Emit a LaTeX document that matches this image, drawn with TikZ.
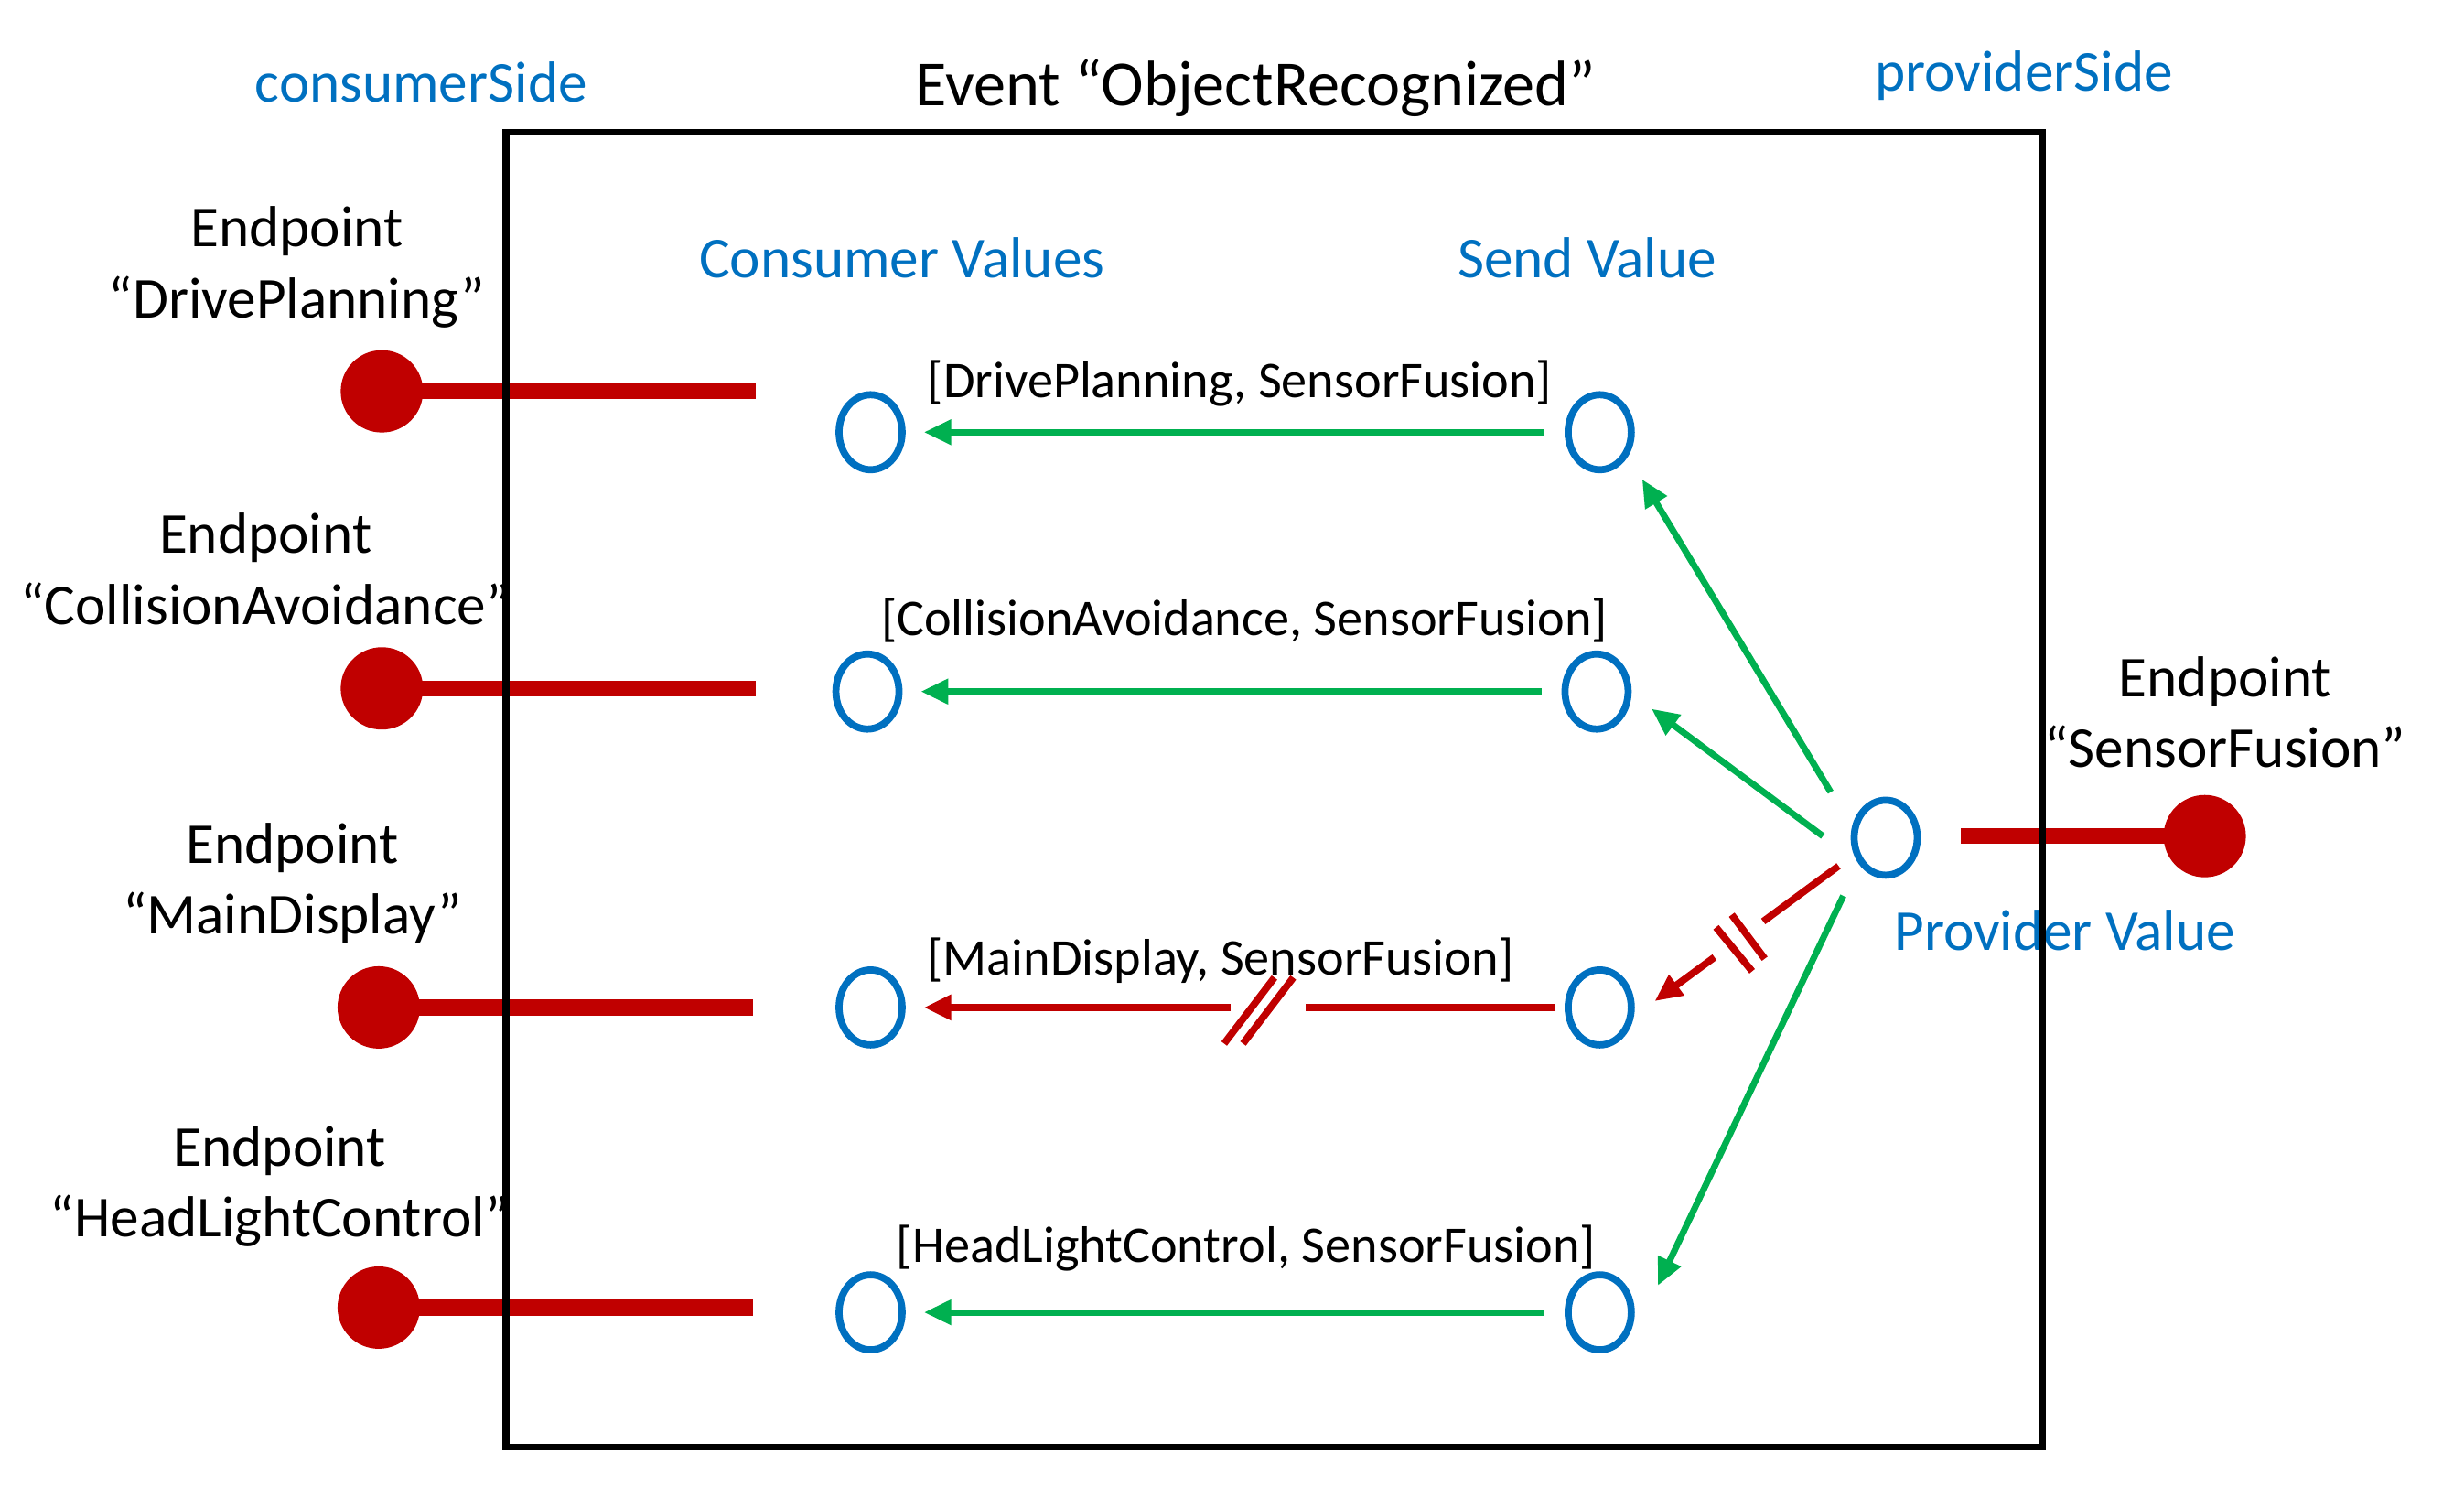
\documentclass[tikz,border=0pt]{standalone}
\usepackage{fontspec}
\setmainfont{Carlito}
\usetikzlibrary{arrows.meta,shapes.geometric,calc}
\definecolor{ablue}{HTML}{0070C0}
\definecolor{ared}{HTML}{C00000}
\definecolor{agreen}{HTML}{00B050}
\tikzset{
  lbl/.style={font=\fontsize{18}{22}\selectfont, align=center, inner sep=0pt},
  bluelbl/.style={lbl, text=ablue},
  titlelbl/.style={font=\fontsize{20}{24}\selectfont, inner sep=0pt},
  pairlbl/.style={font=\fontsize{16}{19}\selectfont, inner sep=0pt},
  valnode/.style={ellipse, draw=ablue, line width=2.2pt, minimum width=0.69cm,
                  minimum height=0.82cm, inner sep=0pt},
  epdot/.style={circle, fill=ared, minimum size=0.9cm, inner sep=0pt},
  wire/.style={draw=ared, line width=4.9pt},
  flow/.style={draw=agreen, line width=2pt, -{Triangle[length=8.5pt,width=7.5pt]}},
  blocked/.style={draw=ared, line width=2.2pt},
  blockedtip/.style={blocked, -{Triangle[length=8.5pt,width=7.5pt]}},
  frame/.style={draw=black, line width=2.1pt}
}
\begin{document}
\begin{tikzpicture}[x=0.017175cm, y=-0.017175cm]
\useasboundingbox (0,0) rectangle (1568,960);

% headings
\node[bluelbl] (cside) at (268,52) {consumerSide};
\node[titlelbl] (ttl) at (799,56) {Event “ObjectRecognized”};
\node[bluelbl] (pside) at (1288,48) {providerSide};
\node[bluelbl] (chead) at (574,164) {Consumer Values};
\node[bluelbl] (shead) at (1010,164) {Send Value};
\node[bluelbl] (phead) at (1314,592) {Provider Value};

% endpoint labels
\node[lbl] (e1) at (189,170) {Endpoint\\“DrivePlanning”};
\node[lbl] (e2) at (169,362) {Endpoint\\“CollisionAvoidance”};
\node[lbl] (e3) at (186,562) {Endpoint\\“MainDisplay”};
\node[lbl] (e4) at (178,755) {Endpoint\\“HeadLightControl”};
\node[lbl] (ep) at (1416,453) {Endpoint\\“SensorFusion”};

% endpoint dots and their wires
\node[epdot] (d1) at (243,249) {};
\node[epdot] (d2) at (243,438) {};
\node[epdot] (d3) at (241,641) {};
\node[epdot] (d4) at (241,832) {};
\node[epdot] (dp) at (1403,532) {};
\coordinate (w1) at (481,249);
\coordinate (w2) at (481,438);
\coordinate (w3) at (479,641);
\coordinate (w4) at (479,832);
\coordinate (wp) at (1248,532);
\draw[wire] (d1.center) -- (w1);
\draw[wire] (d2.center) -- (w2);
\draw[wire] (d3.center) -- (w3);
\draw[wire] (d4.center) -- (w4);
\draw[wire] (dp.center) -- (wp);

% value slots
\node[valnode] (c1) at (554,275) {};
\node[valnode] (s1) at (1018,275) {};
\node[valnode] (c2) at (552,440) {};
\node[valnode] (s2) at (1016,440) {};
\node[valnode] (c3) at (554,641) {};
\node[valnode] (s3) at (1018,641) {};
\node[valnode] (c4) at (554,835) {};
\node[valnode] (s4) at (1018,835) {};
\node[valnode] (pv) at (1200,533) {};

% pair labels
\node[pairlbl] (p1) at (789,244) {[DrivePlanning, SensorFusion]};
\node[pairlbl] (p2) at (792,395) {[CollisionAvoidance, SensorFusion]};
\node[pairlbl] (p3) at (777,611) {[MainDisplay, SensorFusion]};
\node[pairlbl] (p4) at (793,794) {[HeadLightControl, SensorFusion]};

% delivered values
\draw[flow, shorten <=0.22cm, shorten >=0.2cm] (s1) -- (c1);
\draw[flow, shorten <=0.22cm, shorten >=0.2cm] (s2) -- (c2);
\draw[flow, shorten <=0.22cm, shorten >=0.2cm] (s4) -- (c4);

% blocked value (MainDisplay)
\coordinate (b1) at (831,641);
\coordinate (b2) at (783,641);
\draw[blocked, shorten <=0.1cm] (s3) -- (b1);
\draw[blockedtip, shorten >=0.2cm] (b2) -- (c3);
\draw[blocked] (779,664) -- (811,622);
\draw[blocked] (791,664) -- (823,622);

% provider fan-out
\draw[flow] ($(pv)+(-35,-29)$) -- ($(s1)+(27,30)$);
\draw[flow] ($(pv)+(-40,-1)$) -- ($(s2)+(35,11)$);
\draw[flow] ($(pv)+(-27,37)$) -- ($(s4)+(37,-17)$);

\coordinate (r0) at ($(pv)+(-30,18)$);
\coordinate (r1) at ($(s3)+(35,-4)$);
\coordinate (q1) at ($(r0)!0.41!(r1)$);
\coordinate (q2) at ($(r0)!0.675!(r1)$);
\draw[blocked] (r0) -- (q1);
\draw[blockedtip] (q2) -- (r1);
\draw[blocked] (1092,590) -- (1115,618);
\draw[blocked] (1102,582) -- (1123,610);

% event frame
\draw[frame] (322,84) rectangle (1300,921);
\end{tikzpicture}
\end{document}
